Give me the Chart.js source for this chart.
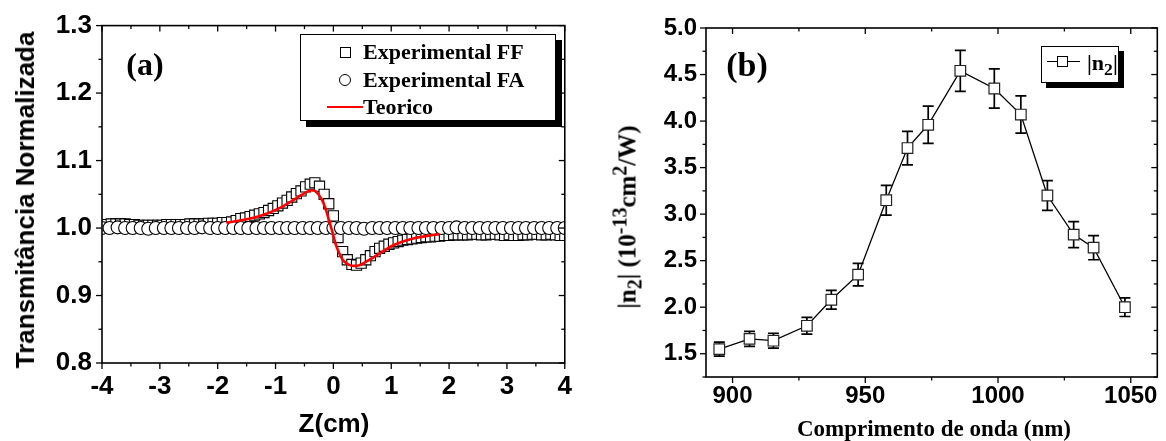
<!DOCTYPE html>
<html lang="pt">
<head>
<meta charset="utf-8">
<script src="https://cdn.jsdelivr.net/npm/chart.js@4.4.1/dist/chart.umd.min.js"></script>
<style>
  html, body { margin: 0; padding: 0; background: #fff; }
  #fig { position: relative; width: 1166px; height: 441px; overflow: hidden; }
  canvas { position: absolute; top: 0; }
  #chartA { left: 0; }
  #chartB { left: 580px; }
  .lbl { position: absolute; white-space: nowrap; color: #000; line-height: 1; }
  .sans { font-family: 'Liberation Sans', Arial, sans-serif; font-weight: bold; }
  .serif { font-family: 'Liberation Serif', 'Times New Roman', serif; font-weight: bold; }
  .rot { transform: translate(-50%, -50%) rotate(-90deg); }
  .ctr { transform: translate(-50%, -50%); }
  .vmid { transform: translateY(-50%); }
  .box { position: absolute; background: #fff; border: 1px solid #000; }
  .sym { position: absolute; background: #fff; border: 1px solid #000; box-sizing: border-box; }
  sub, sup { font-size: 80%; line-height: 0; }
</style>
</head>
<body>
<div id="fig">
  <canvas id="chartA" width="580" height="441"></canvas>
  <canvas id="chartB" width="586" height="441"></canvas>

  <!-- panel (a) texts -->
  <div class="lbl sans rot" style="left:25px; top:200px; font-size:26px;">Transmitância Normalizada</div>
  <div class="lbl sans ctr" style="left:334px; top:423px; font-size:26px;">Z(cm)</div>
  <div class="lbl serif ctr" style="left:145px; top:64px; font-size:32px;">(a)</div>

  <div class="box" style="left:300px; top:34px; width:254px; height:85px; box-shadow:6px 6px 0 #000;"></div>
  <div class="sym" style="left:340px; top:47px; width:11px; height:11px;"></div>
  <div class="sym" style="left:339px; top:74px; width:12px; height:12px; border-radius:50%;"></div>
  <div style="position:absolute; left:327px; top:106px; width:36px; height:2px; background:#ff0000;"></div>
  <div class="lbl serif vmid" style="left:363px; top:52px; font-size:22px;">Experimental FF</div>
  <div class="lbl serif vmid" style="left:363px; top:80px; font-size:22px;">Experimental FA</div>
  <div class="lbl serif vmid" style="left:363px; top:107px; font-size:22px;">Teorico</div>

  <!-- panel (b) texts -->
  <div class="lbl serif rot" style="left:627px; top:217px; font-size:25px;">|n<sub>2</sub>| (10<sup>-13</sup>cm<sup>2</sup>/W)</div>
  <div class="lbl serif ctr" style="left:934px; top:428px; font-size:23px;">Comprimento de onda (nm)</div>
  <div class="lbl serif ctr" style="left:747px; top:65px; font-size:34px;">(b)</div>

  <div class="box" style="left:1041px; top:46px; width:76px; height:35px; box-shadow:5px 5px 0 #000;"></div>
  <div style="position:absolute; left:1047px; top:61px; width:33px; height:1.3px; background:#000;"></div>
  <div class="sym" style="left:1057px; top:56px; width:11px; height:11px;"></div>
  <div class="lbl serif vmid" style="left:1087px; top:63px; font-size:22px;">|n<sub>2</sub>|</div>
</div>

<script>
// ---- panel (a): Z-scan, transmitância vs Z ----
const ffZ = [-4.00,-3.92,-3.84,-3.76,-3.68,-3.60,-3.52,-3.44,-3.36,-3.28,
  -3.20,-3.12,-3.04,-2.96,-2.88,-2.80,-2.72,-2.64,-2.56,-2.48,
  -2.40,-2.32,-2.24,-2.16,-2.08,-2.00,-1.92,-1.84,-1.76,-1.68,
  -1.60,-1.52,-1.44,-1.36,-1.28,-1.20,-1.12,-1.04,-0.96,-0.88,
  -0.80,-0.72,-0.64,-0.56,-0.48,-0.40,-0.32,-0.24,-0.16,-0.08,
  0.00,0.08,0.16,0.24,0.32,0.40,0.48,0.56,0.64,0.72,
  0.80,0.88,0.96,1.04,1.12,1.20,1.28,1.36,1.44,1.52,
  1.60,1.68,1.76,1.84,1.92,2.00,2.08,2.16,2.24,2.32,
  2.40,2.48,2.56,2.64,2.72,2.80,2.88,2.96,3.04,3.12,
  3.20,3.28,3.36,3.44,3.52,3.60,3.68,3.76,3.84,3.92,4.00];
const ffT = [1.005,1.005,1.006,1.006,1.006,1.006,1.005,1.005,1.004,1.004,
  1.004,1.004,1.004,1.004,1.005,1.005,1.005,1.005,1.005,1.006,
  1.006,1.006,1.006,1.007,1.007,1.007,1.008,1.008,1.009,1.011,
  1.014,1.015,1.017,1.019,1.021,1.023,1.026,1.029,1.033,1.037,
  1.041,1.046,1.051,1.055,1.061,1.065,1.067,1.062,1.050,1.036,
  1.018,0.986,0.965,0.953,0.946,0.945,0.948,0.953,0.959,0.965,
  0.970,0.973,0.976,0.978,0.980,0.982,0.983,0.984,0.985,0.986,
  0.987,0.987,0.988,0.988,0.989,0.989,0.990,0.990,0.990,0.990,
  0.991,0.991,0.990,0.990,0.991,0.991,0.990,0.989,0.990,0.989,
  0.989,0.990,0.990,0.991,0.991,0.990,0.990,0.991,0.990,0.989,0.989];

const faZ = [-4.00,-3.87,-3.73,-3.60,-3.47,-3.33,-3.20,-3.07,-2.93,-2.80,
  -2.67,-2.53,-2.40,-2.27,-2.13,-2.00,-1.87,-1.73,-1.60,-1.47,
  -1.33,-1.20,-1.07,-0.93,-0.80,-0.67,-0.53,-0.40,-0.27,-0.13,
  0.00,0.13,0.27,0.40,0.53,0.67,0.80,0.93,1.07,1.20,
  1.33,1.47,1.60,1.73,1.87,2.00,2.13,2.27,2.40,2.53,
  2.67,2.80,2.93,3.07,3.20,3.33,3.47,3.60,3.73,3.87,4.00];
const faT = [1.000,1.000,1.001,1.000,1.000,1.000,0.999,1.000,1.000,1.000,
  1.000,1.000,1.000,1.001,1.000,1.000,1.000,1.000,1.000,1.000,
  1.000,1.000,1.000,1.000,1.000,1.000,1.000,1.000,1.000,1.000,
  1.000,1.000,1.000,1.000,0.999,1.000,1.000,1.000,1.000,1.000,
  1.000,1.000,1.000,1.000,1.000,1.000,1.001,1.000,1.000,1.000,
  1.000,1.000,1.000,1.000,1.000,1.000,1.000,1.000,1.000,1.000,1.000];

const teoZ = [-1.85,-1.70,-1.50,-1.30,-1.10,-0.90,-0.70,-0.55,-0.45,-0.38,-0.32,
  -0.26,-0.20,-0.14,-0.08,-0.02,0.04,0.10,0.16,0.22,0.28,0.34,
  0.40,0.48,0.58,0.70,0.85,1.00,1.20,1.40,1.60,1.83];
const teoT = [1.008,1.010,1.013,1.017,1.023,1.031,1.041,1.049,1.054,1.056,1.055,
  1.050,1.042,1.030,1.013,0.995,0.976,0.963,0.953,0.948,0.945,0.944,
  0.944,0.946,0.951,0.957,0.965,0.973,0.980,0.985,0.988,0.991];

const zTicks = [-4, -3, -2, -1, 0, 1, 2, 3, 4];
const tTicks = [0.8, 0.9, 1.0, 1.1, 1.2, 1.3];

// ---- panel (b): |n2| vs comprimento de onda ----
const lambda = [895, 906.4, 915.4, 928, 937.2, 947.3, 957.9, 965.9, 973.7, 985.8, 998.6, 1008.6, 1018.6, 1028.5, 1036, 1047.8];
const n2 = [1.55, 1.66, 1.64, 1.80, 2.08, 2.35, 3.15, 3.71, 3.96, 4.54, 4.35, 4.07, 3.20, 2.78, 2.64, 2.00];
const n2Err = [0.075, 0.08, 0.08, 0.09, 0.10, 0.12, 0.16, 0.18, 0.20, 0.22, 0.21, 0.20, 0.16, 0.14, 0.13, 0.10];
const lambdaTicks = [900, 950, 1000, 1050];
const n2Ticks = [1.5, 2.0, 2.5, 3.0, 3.5, 4.0, 4.5, 5.0];

const pts = (xs, ys) => xs.map((x, i) => ({ x: x, y: ys[i] }));

// frame box plus major/minor ticks (outward at bottom/left, inward at top/right)
function makeFrame(c) {
  return {
    id: 'frame',
    afterDraw(chart) {
      const { ctx, chartArea: a, scales: { x, y } } = chart;
      const isMajor = (v, step) => Math.abs(v / step - Math.round(v / step)) < 1e-6;
      const seg = (x1, y1, x2, y2) => { ctx.beginPath(); ctx.moveTo(x1, y1); ctx.lineTo(x2, y2); ctx.stroke(); };
      ctx.save();
      ctx.strokeStyle = '#000';
      ctx.lineWidth = 1.3;
      for (let i = 0; ; i++) {
        const v = c.xStart + i * c.xMinor;
        if (v > x.max + 1e-9) break;
        const px = x.getPixelForValue(v);
        const len = isMajor(v, c.xMajor) ? 6 : 3.5;
        seg(px, a.bottom, px, a.bottom + len);
        seg(px, a.top, px, a.top + len);
      }
      for (let i = 0; ; i++) {
        const v = c.yStart + i * c.yMinor;
        if (v > y.max + 1e-9) break;
        const py = y.getPixelForValue(v);
        const len = isMajor(v, c.yMajor) ? 6 : 3.5;
        seg(a.left - len, py, a.left, py);
        seg(a.right - len, py, a.right, py);
      }
      ctx.lineWidth = 1.6;
      ctx.strokeRect(a.left, a.top, a.right - a.left, a.bottom - a.top);
      ctx.restore();
    }
  };
}

const errorBars = {
  id: 'errorBars',
  beforeDatasetsDraw(chart) {
    const { ctx, scales: { x, y } } = chart;
    ctx.save();
    ctx.strokeStyle = '#000';
    ctx.lineWidth = 1.7;
    lambda.forEach((l, i) => {
      const px = x.getPixelForValue(l);
      const top = y.getPixelForValue(n2[i] + n2Err[i]);
      const bot = y.getPixelForValue(n2[i] - n2Err[i]);
      ctx.beginPath();
      ctx.moveTo(px, top); ctx.lineTo(px, bot);
      ctx.moveTo(px - 5.5, top); ctx.lineTo(px + 5.5, top);
      ctx.moveTo(px - 5.5, bot); ctx.lineTo(px + 5.5, bot);
      ctx.stroke();
    });
    ctx.restore();
  }
};

const sansTick = { family: "'Liberation Sans', Arial, sans-serif", weight: 'bold', size: 26 };
const sansTickB = { family: "'Liberation Sans', Arial, sans-serif", weight: 'bold', size: 24 };
const noGrid = { display: false, drawTicks: false };

new Chart(document.getElementById('chartA'), {
  type: 'scatter',
  data: {
    datasets: [
      { label: 'Teorico', data: pts(teoZ, teoT), showLine: true, borderColor: '#ff0000', borderWidth: 2.6,
        pointRadius: 0, cubicInterpolationMode: 'monotone', order: 1 },
      { label: 'Experimental FA', data: pts(faZ, faT), pointStyle: 'circle', pointRadius: 6.5,
        pointBackgroundColor: '#fff', pointBorderColor: '#000', pointBorderWidth: 1.1, order: 2 },
      { label: 'Experimental FF', data: pts(ffZ, ffT), pointStyle: 'rect', pointRadius: 7.2,
        pointBackgroundColor: '#fff', pointBorderColor: '#000', pointBorderWidth: 1.1, order: 3 }
    ]
  },
  options: {
    responsive: false, animation: false, devicePixelRatio: 1, events: [],
    layout: { padding: { top: 23, right: 14, left: 0, bottom: 0 } },
    plugins: { legend: { display: false }, tooltip: { enabled: false } },
    scales: {
      x: {
        type: 'linear', min: -4, max: 4,
        afterBuildTicks: s => { s.ticks = zTicks.map(v => ({ value: v })); },
        afterFit: s => { s.height = 78; },
        grid: noGrid, border: { display: false },
        ticks: { padding: 8, color: '#000', font: sansTick, maxRotation: 0, autoSkip: false, callback: v => String(v) }
      },
      y: {
        type: 'linear', min: 0.8, max: 1.3,
        afterBuildTicks: s => { s.ticks = tTicks.map(v => ({ value: v })); },
        afterFit: s => { s.width = 102; },
        grid: noGrid, border: { display: false },
        ticks: { padding: 10, color: '#000', font: sansTick, autoSkip: false, callback: v => v.toFixed(1) }
      }
    }
  },
  plugins: [makeFrame({ xStart: -4, xMinor: 0.5, xMajor: 1, yStart: 0.8, yMinor: 0.05, yMajor: 0.1 })]
});

new Chart(document.getElementById('chartB'), {
  type: 'scatter',
  data: {
    datasets: [
      { label: '|n2|', data: pts(lambda, n2), showLine: true, borderColor: '#000', borderWidth: 1.3,
        pointStyle: 'rect', pointRadius: 7.5, pointBackgroundColor: '#fff', pointBorderColor: '#222', pointBorderWidth: 1.2 }
    ]
  },
  options: {
    responsive: false, animation: false, devicePixelRatio: 1, events: [],
    layout: { padding: { top: 28, right: 5, left: 0, bottom: 0 } },
    plugins: { legend: { display: false }, tooltip: { enabled: false } },
    scales: {
      x: {
        type: 'linear', min: 890, max: 1060,
        afterBuildTicks: s => { s.ticks = lambdaTicks.map(v => ({ value: v })); },
        afterFit: s => { s.height = 64; },
        grid: noGrid, border: { display: false },
        ticks: { padding: 5, color: '#000', font: sansTickB, maxRotation: 0, autoSkip: false, callback: v => String(v) }
      },
      y: {
        type: 'linear', min: 1.25, max: 5.0,
        afterBuildTicks: s => { s.ticks = n2Ticks.map(v => ({ value: v })); },
        afterFit: s => { s.width = 126; },
        grid: noGrid, border: { display: false },
        ticks: { padding: 9, color: '#000', font: sansTickB, autoSkip: false, callback: v => v.toFixed(1) }
      }
    }
  },
  plugins: [errorBars, makeFrame({ xStart: 900, xMinor: 25, xMajor: 50, yStart: 1.25, yMinor: 0.25, yMajor: 0.5 })]
});
</script>
</body>
</html>
